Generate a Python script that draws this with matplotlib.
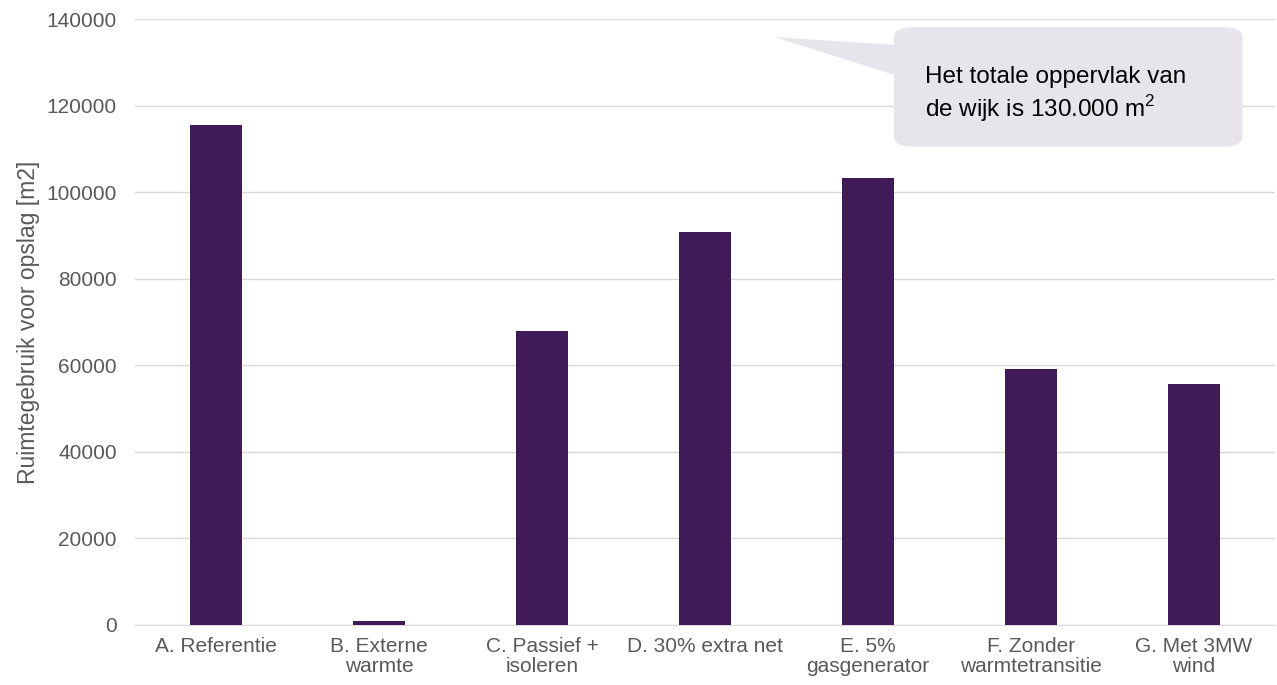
import matplotlib.pyplot as plt
from matplotlib.patches import FancyBboxPatch, Polygon

plt.rcParams['font.family'] = ['Liberation Sans', 'DejaVu Sans']
plt.rcParams['mathtext.fontset'] = 'custom'
plt.rcParams['mathtext.rm'] = 'Liberation Sans'

# Data
categories = ['A. Referentie', 'B. Externe\nwarmte', 'C. Passief +\nisoleren',
              'D. 30% extra net', 'E. 5%\ngasgenerator', 'F. Zonder\nwarmtetransitie',
              'G. Met 3MW\nwind']
values = [115500, 1000, 68000, 90800, 103300, 59100, 55700]
yticks = [0, 20000, 40000, 60000, 80000, 100000, 120000, 140000]

bar_color = '#3F1A57'
text_gray = '#595959'
grid_gray = '#D9D9D9'

fig = plt.figure(figsize=(12.77, 6.85), dpi=100)
ax = fig.add_axes([135 / 1277, 1 - 625 / 685, 1140 / 1277, 606 / 685])

x = range(len(categories))
ax.bar(x, values, width=0.32, color=bar_color, zorder=3)

ax.set_xlim(-0.5, len(categories) - 0.5)
ax.set_ylim(0, 140000)
ax.set_yticks(yticks)
ax.set_yticklabels([str(t) for t in yticks])
ax.set_xticks(list(x))
ax.set_xticklabels(categories)
ax.tick_params(axis='both', length=0, labelsize=15, colors=text_gray)
ax.tick_params(axis='y', pad=13)
ax.tick_params(axis='x', pad=9)
for lbl in ax.get_xticklabels():
    lbl.set_linespacing(1.05)

ax.grid(axis='y', color=grid_gray, linewidth=1, zorder=0)
for s in ['top', 'right', 'left']:
    ax.spines[s].set_visible(False)
ax.spines['bottom'].set_color(grid_gray)

ax.set_ylabel('Ruimtegebruik voor opslag [m2]', fontsize=16.5, color=text_gray, labelpad=5)

# Callout bubble
bubble_color = '#E7E4EB'
box = FancyBboxPatch((4.16, 110500), 2.14, 27600,
                     boxstyle='round,pad=0,rounding_size=0.12',
                     mutation_aspect=140000 / 7 * 0.95,
                     facecolor=bubble_color, edgecolor='none', zorder=4, clip_on=False)
ax.add_patch(box)
tail = Polygon([(3.43, 135800), (4.17, 134000), (4.17, 127000)],
               closed=True, facecolor=bubble_color, edgecolor='none', zorder=4, clip_on=False)
ax.add_patch(tail)
ax.text(4.35, 122500, 'Het totale oppervlak van\nde wijk is 130.000 m$^{2}$',
        fontsize=17.5, color='#000000', va='center', ha='left', zorder=5, linespacing=1.2)

fig.savefig('out.png', dpi=100)
